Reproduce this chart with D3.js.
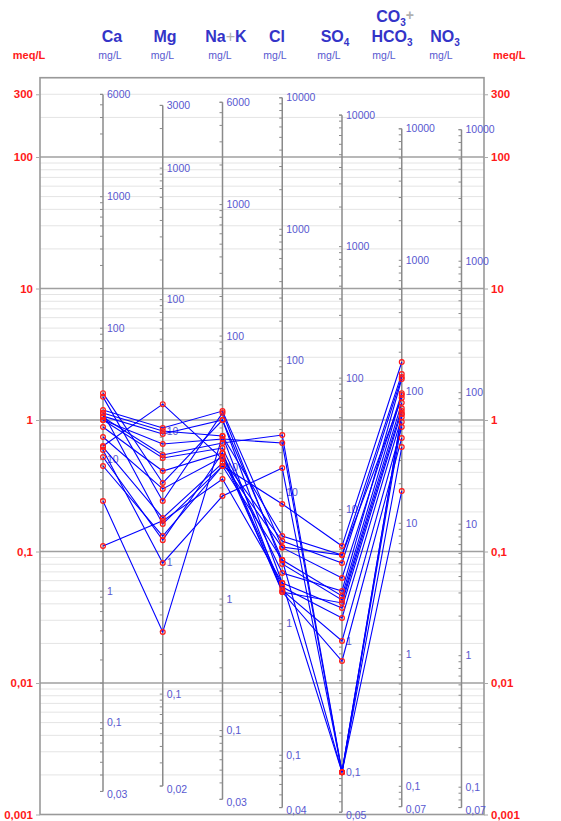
<!DOCTYPE html>
<html>
<head>
<meta charset="utf-8">
<script src="https://cdn.jsdelivr.net/npm/d3@7"></script>
<style>
  body { margin: 0; background: #fff; }
  svg text { font-family: Arial, "Liberation Sans", sans-serif; }
</style>
</head>
<body>
<div class="chart"></div>
<script>

// ions on the x axis
var ions = ["Ca", "Mg", "Na+K", "Cl", "SO4", "HCO3", "NO3"];

// equivalent weights used to place the mg/L scales
var eqWeights = [20.04, 12.15, 23.0, 35.45, 48.03, 61.02, 62.0];

// mg/L labels for each ion column
var mgLabels = [
    ["6000", "1000", "100", "10", "1", "0,1", "0,03"],
    ["3000", "1000", "100", "10", "1", "0,1", "0,02"],
    ["6000", "1000", "100", "10", "1", "0,1", "0,03"],
    ["10000", "1000", "100", "10", "1", "0,1", "0,04"],
    ["10000", "1000", "100", "10", "1", "0,1", "0,05"],
    ["10000", "1000", "100", "10", "1", "0,1", "0,07"],
    ["10000", "1000", "100", "10", "1", "0,1", "0,07"]
];

// meq/L tick labels
var meqTicks = [300, 100, 10, 1, 0.1, 0.01, 0.001];
var meqLabels = ["300", "100", "10", "1", "0,1", "0,01", "0,001"];

// sample values in meq/L (one entry per sample)
var ca   = [1.60, 1.50, 1.19, 1.13, 1.07, 1.05, 1.00, 1.00, 0.885, 0.743, 0.634, 0.623, 0.592, 0.523, 0.447, 0.242, 0.110, 1.13];
var mg   = [0.332, 0.242, 0.869, 0.825, 0.783, 0.542, 0.657, 0.514, 0.409, 0.299, 1.32, 0.180, 0.0818, 0.122, 0.131, 0.0244, 0.171, 0.162];
var nak  = [1.00, 1.13, 1.17, 0.755, 1.00, 0.668, 0.717, 0.612, 0.561, 0.523, 0.505, 0.471, 0.264, 0.561, 0.447, 0.755, 0.356, 0.447];
var cl   = [0.0861, 0.0804, 0.108, 0.0492, 0.0576, 0.769, 0.668, 0.0687, 0.0537, 0.0509, 0.120, 0.107, 0.431, 0.0492, 0.230, 0.131, 0.0576, 0.0861];
var so4  = [0.0459, 0.0428, 0.094, 0.0406, 0.0372, 0.0021, 0.0021, 0.0501, 0.0312, 0.0209, 0.0818, 0.0629, 0.0021, 0.0147, 0.110, 0.094, 0.0021, 0.0021];
var hco3 = [1.55, 1.35, 2.24, 1.23, 1.17, 1.11, 0.288, 2.05, 1.05, 0.885, 2.12, 1.60, 0.965, 0.730, 2.76, 1.47, 0.623, 1.11];

var series = [ca, mg, nak, cl, so4, hco3];

// svg size and plot frame
var svgWidth = 561,
    svgHeight = 821;
var frameLeft = 40,
    frameRight = 484,
    frameTop = 77.7,
    frameBottom = 814.5;

var svg = d3.select(".chart")
            .append("svg")
            .attr("width", svgWidth)
            .attr("height", svgHeight);

// scales
var yScale = d3.scaleLog()
    .domain([0.001, 401])
    .range([frameBottom, frameTop]);

var xScale = d3.scalePoint()
    .domain(ions)
    .range([103, 461.5]);

var blue = "#0000ff",
    red = "#ff1a1a",
    labelBlue = "#5858d0",
    headBlue = "#3434c8";

// minor gridlines
var minorValues = [];
for (var e = -3; e <= 2; e++) {
    for (var m = 2; m <= 9; m++) {
        var v = m * Math.pow(10, e);
        if (v < 401) minorValues.push(v);
    }
}
svg.append("g")
    .selectAll("line")
    .data(minorValues)
    .enter()
    .append("line")
    .attr("x1", frameLeft)
    .attr("x2", frameRight)
    .attr("y1", function(d) { return yScale(d); })
    .attr("y2", function(d) { return yScale(d); })
    .attr("stroke", "#e4e4e4")
    .attr("stroke-width", 1);

// major gridlines
svg.append("g")
    .selectAll("line")
    .data([0.01, 0.1, 1, 10, 100])
    .enter()
    .append("line")
    .attr("x1", frameLeft)
    .attr("x2", frameRight)
    .attr("y1", function(d) { return yScale(d); })
    .attr("y2", function(d) { return yScale(d); })
    .attr("stroke", "#a0a0a0")
    .attr("stroke-width", 1.6);

// frame
svg.append("rect")
    .attr("x", frameLeft)
    .attr("y", frameTop)
    .attr("width", frameRight - frameLeft)
    .attr("height", frameBottom - frameTop)
    .attr("fill", "none")
    .attr("stroke", "#999")
    .attr("stroke-width", 1.6);

// meq/L axes on both sides
var leftAxis = d3.axisLeft(yScale)
    .tickValues(meqTicks)
    .tickSize(4)
    .tickFormat(function(d, i) { return meqLabels[i]; });
var rightAxis = d3.axisRight(yScale)
    .tickValues(meqTicks)
    .tickSize(4)
    .tickFormat(function(d, i) { return meqLabels[i]; });

[[leftAxis, frameLeft], [rightAxis, frameRight]].forEach(function(a) {
    var g = svg.append("g")
        .attr("transform", "translate(" + a[1] + ",0)")
        .call(a[0]);
    g.select(".domain").remove();
    g.selectAll(".tick line").attr("stroke", "#aaa");
    g.selectAll(".tick text")
        .attr("fill", red)
        .attr("font-weight", "bold")
        .attr("font-size", 11.5)
        .attr("font-family", "Arial, 'Liberation Sans', sans-serif");
});

// column axes with their mg/L scales
ions.forEach(function(ion, i) {
    var x = xScale(ion);
    var w = eqWeights[i];
    var labels = mgLabels[i];
    var mgTop = +labels[0];
    var mgBottom = +labels[labels.length - 1].replace(",", ".");

    svg.append("line")
        .attr("x1", x)
        .attr("x2", x)
        .attr("y1", yScale(mgTop / w))
        .attr("y2", yScale(mgBottom / w))
        .attr("stroke", "#8a8a8a")
        .attr("stroke-width", 1.5);

    // minor ticks
    var ticks = [];
    for (var e = -2; e <= 4; e++) {
        for (var m = 1; m <= 9; m++) {
            var v = m * Math.pow(10, e);
            if (v >= mgBottom && v <= mgTop) ticks.push(v);
        }
    }
    ticks.push(mgTop, mgBottom);
    svg.append("g")
        .selectAll("line")
        .data(ticks)
        .enter()
        .append("line")
        .attr("x1", x - 3)
        .attr("x2", x)
        .attr("y1", function(d) { return yScale(d / w); })
        .attr("y2", function(d) { return yScale(d / w); })
        .attr("stroke", "#8a8a8a")
        .attr("stroke-width", 1);

    // mg/L labels
    svg.append("g")
        .selectAll("text")
        .data(labels)
        .enter()
        .append("text")
        .attr("x", x + 4)
        .attr("y", function(d, j) {
            var off = j == labels.length - 1 ? 3 : 0;
            return yScale(+d.replace(",", ".") / w) + off;
        })
        .attr("dy", "0.35em")
        .attr("fill", labelBlue)
        .attr("font-size", 10.5)
        .text(function(d) { return d; });
});

// sample lines
var line = d3.line()
    .x(function(d) { return xScale(d[0]); })
    .y(function(d) { return yScale(d[1]); });

var samples = d3.range(ca.length).map(function(k) {
    return series.map(function(s, i) { return [ions[i], s[k]]; });
});

svg.append("g")
    .selectAll("path")
    .data(samples)
    .enter()
    .append("path")
    .attr("d", line)
    .attr("fill", "none")
    .attr("stroke", blue)
    .attr("stroke-width", 1.1);

// sample points
svg.append("g")
    .selectAll("circle")
    .data(d3.merge(samples))
    .enter()
    .append("circle")
    .attr("cx", function(d) { return xScale(d[0]); })
    .attr("cy", function(d) { return yScale(d[1]); })
    .attr("r", 2.4)
    .attr("fill", "none")
    .attr("stroke", red)
    .attr("stroke-width", 1.2);

// header
var head = svg.append("g")
    .attr("font-weight", "bold")
    .attr("font-size", 16)
    .attr("fill", headBlue)
    .attr("text-anchor", "middle");

function headText(x, y, base, sub, plus) {
    var t = head.append("text").attr("x", x).attr("y", y);
    t.append("tspan").text(base);
    if (sub) t.append("tspan").attr("font-size", 10).attr("dy", 4).text(sub);
    if (plus) t.append("tspan").attr("fill", "#b0b0b0").attr("dy", sub ? -6 : 0).attr("font-size", 14).text(plus);
}

headText(112, 41.5, "Ca");
headText(165, 41.5, "Mg");
var nk = head.append("text").attr("x", 226).attr("y", 41.5);
nk.append("tspan").text("Na");
nk.append("tspan").attr("fill", "#b0b0b0").attr("font-weight", "normal").text("+");
nk.append("tspan").text("K");
headText(277, 41.5, "Cl");
headText(335, 41.5, "SO", "4");
headText(395, 22, "CO", "3", "+");
headText(392, 41.5, "HCO", "3");
headText(445, 41.5, "NO", "3");

// unit labels
var units = [110, 162.5, 220, 275, 329, 384, 441];
svg.append("g")
    .selectAll("text")
    .data(units)
    .enter()
    .append("text")
    .attr("x", function(d) { return d; })
    .attr("y", 59)
    .attr("text-anchor", "middle")
    .attr("font-size", 10.5)
    .attr("fill", labelBlue)
    .text("mg/L");

svg.append("text")
    .attr("x", 29).attr("y", 59)
    .attr("text-anchor", "middle")
    .attr("font-size", 11)
    .attr("font-weight", "bold")
    .attr("fill", red)
    .text("meq/L");
svg.append("text")
    .attr("x", 493).attr("y", 59)
    .attr("font-size", 11)
    .attr("font-weight", "bold")
    .attr("fill", red)
    .text("meq/L");

</script>
</body>
</html>
